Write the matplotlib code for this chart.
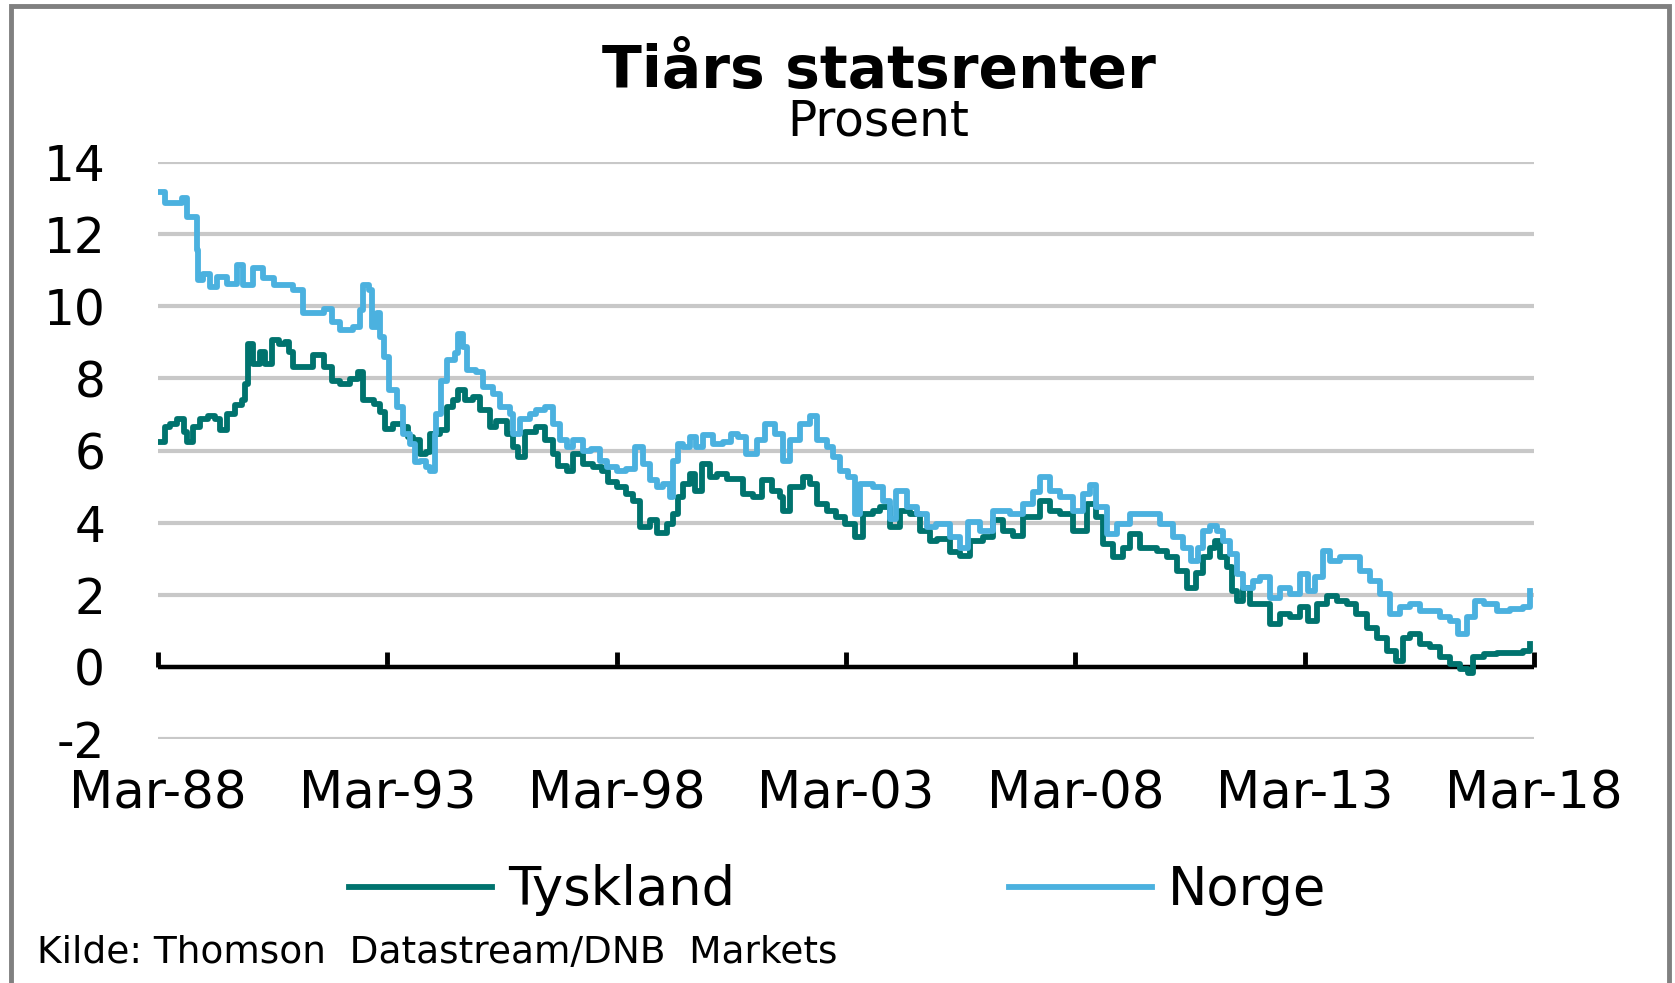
import matplotlib
matplotlib.use("Agg")
import matplotlib.pyplot as plt
from matplotlib.patches import Rectangle

# tiårs statsrenter (desimalår, prosent)
tysk_years = [1988.18, 1988.33, 1988.44, 1988.58, 1988.73, 1988.8, 1988.94, 1989.09, 1989.27, 1989.42,
              1989.53, 1989.67, 1989.85, 1990.0, 1990.07, 1990.14, 1990.25, 1990.4, 1990.51, 1990.65,
              1990.8, 1990.94, 1991.02, 1991.12, 1991.34, 1991.56, 1991.78, 1991.96, 1992.14, 1992.36,
              1992.54, 1992.65, 1992.87, 1993.01, 1993.12, 1993.3, 1993.52, 1993.63, 1993.73, 1993.88,
              1994.02, 1994.1, 1994.31, 1994.46, 1994.6, 1994.71, 1994.86, 1995.04, 1995.19, 1995.4,
              1995.55, 1995.77, 1995.91, 1996.02, 1996.17, 1996.42, 1996.6, 1996.78, 1996.89, 1997.08,
              1997.22, 1997.44, 1997.66, 1997.84, 1997.98, 1998.17, 1998.38, 1998.53, 1998.67, 1998.89,
              1999.04, 1999.26, 1999.4, 1999.51, 1999.62, 1999.77, 1999.88, 2000.02, 2000.2, 2000.35,
              2000.57, 2000.75, 2000.93, 2001.15, 2001.33, 2001.55, 2001.73, 2001.8, 2001.95, 2002.13,
              2002.24, 2002.38, 2002.53, 2002.75, 2002.96, 2003.14, 2003.36, 2003.54, 2003.76, 2003.91,
              2004.13, 2004.34, 2004.56, 2004.78, 2005.0, 2005.15, 2005.44, 2005.65, 2005.87, 2006.16,
              2006.38, 2006.6, 2006.82, 2007.03, 2007.25, 2007.4, 2007.62, 2007.83, 2008.12, 2008.42,
              2008.63, 2008.78, 2009.0, 2009.22, 2009.36, 2009.58, 2009.94, 2010.16, 2010.38, 2010.6,
              2010.81, 2010.96, 2011.11, 2011.22, 2011.32, 2011.47, 2011.58, 2011.69, 2011.83, 2011.98,
              2012.2, 2012.41, 2012.63, 2012.85, 2013.07, 2013.25, 2013.43, 2013.65, 2013.87, 2014.09,
              2014.3, 2014.52, 2014.74, 2014.96, 2015.17, 2015.32, 2015.47, 2015.68, 2015.9, 2016.12,
              2016.34, 2016.56, 2016.74, 2016.85, 2017.07, 2017.36, 2017.65, 2017.94, 2018.08]
tysk_vals = [6.23, 6.65, 6.74, 6.88, 6.51, 6.23, 6.65, 6.88, 6.97, 6.88,
             6.56, 7.02, 7.25, 7.39, 7.85, 8.96, 8.41, 8.73, 8.41, 9.06,
             8.96, 9.0, 8.73, 8.32, 8.32, 8.64, 8.32, 7.94, 7.85, 7.99,
             8.17, 7.39, 7.3, 7.07, 6.6, 6.74, 6.65, 6.37, 6.28, 5.91,
             5.95, 6.46, 6.56, 7.2, 7.39, 7.67, 7.39, 7.48, 7.11, 6.65,
             6.83, 6.46, 6.09, 5.81, 6.5, 6.65, 6.28, 5.91, 5.58, 5.44,
             5.91, 5.63, 5.54, 5.44, 5.12, 4.98, 4.8, 4.61, 3.87, 4.06,
             3.7, 3.96, 4.24, 4.7, 5.07, 5.35, 4.89, 5.63, 5.26, 5.35,
             5.21, 5.21, 4.8, 4.7, 5.17, 4.89, 4.7, 4.33, 4.98, 4.98,
             5.26, 5.07, 4.52, 4.33, 4.15, 3.96, 3.59, 4.24, 4.33, 4.43,
             3.87, 4.33, 4.24, 3.78, 3.5, 3.55, 3.18, 3.08, 3.5, 3.59,
             4.06, 3.78, 3.64, 4.15, 4.15, 4.61, 4.33, 4.24, 3.78, 4.52,
             4.15, 3.41, 3.04, 3.31, 3.69, 3.31, 3.22, 3.04, 2.67, 2.2,
             2.6, 3.04, 3.31, 3.5, 3.04, 2.76, 2.11, 1.83, 2.2, 1.74,
             1.74, 1.18, 1.46, 1.37, 1.65, 1.28, 1.74, 1.97, 1.83, 1.74,
             1.46, 1.09, 0.81, 0.44, 0.17, 0.81, 0.91, 0.63, 0.54, 0.26,
             0.07, -0.07, -0.16, 0.26, 0.35, 0.39, 0.39, 0.44, 0.63]

norge_years = [1988.18, 1988.33, 1988.55, 1988.69, 1988.8, 1988.91, 1989.02, 1989.05, 1989.16, 1989.31,
               1989.45, 1989.67, 1989.89, 1990.03, 1990.25, 1990.47, 1990.69, 1990.98, 1991.12, 1991.34,
               1991.63, 1991.78, 1991.96, 1992.14, 1992.43, 1992.58, 1992.65, 1992.76, 1992.83, 1992.94,
               1993.01, 1993.09, 1993.2, 1993.38, 1993.52, 1993.67, 1993.78, 1993.88, 1994.02, 1994.1,
               1994.2, 1994.24, 1994.35, 1994.46, 1994.64, 1994.71, 1994.82, 1994.9, 1995.11, 1995.26,
               1995.48, 1995.62, 1995.84, 1995.91, 1996.06, 1996.28, 1996.42, 1996.6, 1996.78, 1996.93,
               1997.08, 1997.22, 1997.44, 1997.62, 1997.8, 1997.95, 1998.17, 1998.38, 1998.57, 1998.75,
               1998.89, 1999.04, 1999.18, 1999.33, 1999.4, 1999.51, 1999.62, 1999.77, 1999.91, 2000.06,
               2000.27, 2000.49, 2000.67, 2000.82, 2001.0, 2001.22, 2001.4, 2001.62, 2001.8, 2001.95,
               2002.16, 2002.38, 2002.53, 2002.75, 2002.89, 2003.04, 2003.22, 2003.36, 2003.47, 2003.76,
               2003.98, 2004.13, 2004.27, 2004.49, 2004.71, 2004.93, 2005.14, 2005.44, 2005.65, 2005.84,
               2006.09, 2006.38, 2006.74, 2007.03, 2007.25, 2007.4, 2007.62, 2007.83, 2008.12, 2008.34,
               2008.49, 2008.63, 2008.85, 2009.07, 2009.36, 2009.72, 2010.01, 2010.31, 2010.52, 2010.7,
               2010.85, 2010.96, 2011.11, 2011.25, 2011.4, 2011.54, 2011.69, 2011.83, 2012.05, 2012.2,
               2012.41, 2012.63, 2012.85, 2013.07, 2013.25, 2013.4, 2013.58, 2013.72, 2013.94, 2014.16,
               2014.38, 2014.59, 2014.81, 2015.03, 2015.25, 2015.47, 2015.68, 2015.9, 2016.12, 2016.34,
               2016.52, 2016.7, 2016.88, 2017.07, 2017.36, 2017.65, 2017.94, 2018.08]
norge_vals = [13.18, 12.85, 12.85, 12.99, 12.48, 12.48, 11.56, 10.72, 10.9, 10.54,
              10.8, 10.63, 11.14, 10.58, 11.05, 10.77, 10.58, 10.58, 10.44, 9.8,
              9.8, 9.93, 9.56, 9.33, 9.43, 9.89, 10.58, 10.44, 9.43, 9.8,
              9.15, 8.6, 7.67, 7.2, 6.46, 6.19, 5.68, 5.72, 5.54, 5.44,
              6.46, 7.02, 7.94, 8.5, 8.69, 9.24, 8.87, 8.22, 8.18, 7.76,
              7.57, 7.2, 7.02, 6.46, 6.88, 7.02, 7.11, 7.2, 6.74, 6.28,
              6.09, 6.28, 6.0, 6.05, 5.72, 5.54, 5.44, 5.49, 6.09, 5.63,
              5.17, 4.98, 5.07, 4.7, 5.72, 6.19, 6.09, 6.37, 6.09, 6.42,
              6.19, 6.23, 6.46, 6.37, 5.91, 6.28, 6.74, 6.46, 5.72, 6.28,
              6.74, 6.97, 6.28, 6.09, 5.81, 5.44, 5.26, 4.24, 5.07, 4.98,
              4.61, 4.1, 4.89, 4.43, 4.24, 3.87, 3.96, 3.59, 3.31, 4.01,
              3.78, 4.33, 4.24, 4.52, 4.84, 5.26, 4.89, 4.7, 4.33, 4.8,
              5.03, 4.43, 3.69, 3.96, 4.24, 4.24, 3.96, 3.59, 3.31, 2.94,
              3.3, 3.78, 3.92, 3.78, 3.5, 3.13, 2.57, 2.2, 2.39, 2.48,
              1.92, 2.2, 2.02, 2.57, 2.11, 2.48, 3.22, 2.94, 3.04, 3.04,
              2.67, 2.39, 2.02, 1.46, 1.65, 1.74, 1.55, 1.55, 1.37, 1.28,
              0.91, 1.37, 1.83, 1.74, 1.55, 1.6, 1.65, 2.11]

tick_pos = [1988.17, 1993.17, 1998.17, 2003.17, 2008.17, 2013.17, 2018.17]
tick_labels = ['Mar-88', 'Mar-93', 'Mar-98', 'Mar-03', 'Mar-08', 'Mar-13', 'Mar-18']
y_ticks = [-2, 0, 2, 4, 6, 8, 10, 12, 14]

TEAL = '#00736E'
BLUE = '#4BB1DF'

plt.rcParams['font.family'] = ['DejaVu Sans']
plt.rcParams['axes.unicode_minus'] = False

W, H = 1675, 983
fig = plt.figure(figsize=(W / 100, H / 100), dpi=100)
ax = fig.add_axes([158 / W, 1 - 739 / H, (1534 - 158) / W, (739 - 162) / H])

ax.plot(tysk_years, tysk_vals, color=TEAL, lw=4.2, drawstyle='steps-post', label='Tyskland', zorder=3)
ax.plot(norge_years, norge_vals, color=BLUE, lw=4.2, drawstyle='steps-post', label='Norge', zorder=4)

ax.set_xlim(tick_pos[0], tick_pos[-1])
ax.set_ylim(y_ticks[0], y_ticks[-1])
ax.set_yticks(y_ticks)
ax.set_xticks(tick_pos, tick_labels)
ax.grid(axis='y', color='#C8C8C8', lw=3)
ax.set_axisbelow(True)
for s in ax.spines.values():
    s.set_visible(False)
ax.tick_params(axis='y', length=0, pad=38, labelsize=35)
ax.tick_params(axis='x', length=0, pad=22, labelsize=37)

# nullinje med tickmerker
ax.axhline(0, color='black', lw=3.2, zorder=2)
zero_frac = (0 - y_ticks[0]) / (y_ticks[-1] - y_ticks[0])
sec = ax.secondary_xaxis(zero_frac)
sec.set_xticks(tick_pos)
sec.tick_params(direction='in', length=11, width=3.5, color='black', labelbottom=False)
sec.spines['bottom'].set_visible(False)

fig.text(0.525, 1 - 87.6 / H, 'Tiårs statsrenter', ha='center', va='baseline',
         fontsize=42, fontweight='bold')
fig.text(0.524, 1 - 135.6 / H, 'Prosent', ha='center', va='baseline', fontsize=35)

fig.legend(loc='center', bbox_to_anchor=(0.5, 1 - 890 / H), ncol=2, frameon=False,
           fontsize=38, handlelength=2.7, handletextpad=0.3, columnspacing=5.2)

fig.text(37 / W, 1 - 963 / H, 'Kilde: Thomson  Datastream/DNB  Markets', ha='left',
         va='baseline', fontsize=27)

fig.patches.append(Rectangle((0.0063, -0.02), 0.9901, 0.9944 + 0.02, transform=fig.transFigure,
                             fill=False, edgecolor='#808080', lw=3.5))

fig.savefig('out.png', dpi=100)
